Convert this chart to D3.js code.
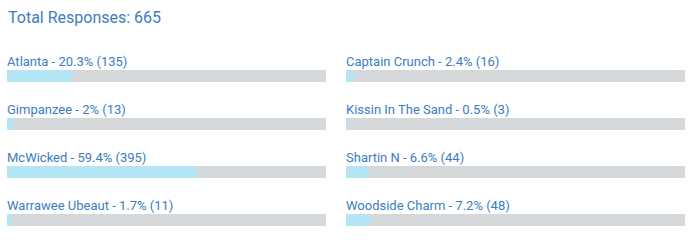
<!DOCTYPE html>
<html>
<head>
<meta charset="utf-8">
<script src="https://cdn.jsdelivr.net/npm/d3@7"></script>
<style>
  html, body { margin: 0; padding: 0; background: #fff; }
  svg { display: block; font-family: Roboto, "Noto Sans", sans-serif; }
</style>
</head>
<body>
<svg id="chart" width="700" height="245"></svg>
<script>
const totalResponses = 665;
const categories = ["Atlanta", "Captain Crunch", "Gimpanzee", "Kissin In The Sand", "McWicked", "Shartin N", "Warrawee Ubeaut", "Woodside Charm"];
const counts = [135, 16, 13, 3, 395, 44, 11, 48];
const percentLabels = ["20.3%", "2.4%", "2%", "0.5%", "59.4%", "6.6%", "1.7%", "7.2%"];

const svg = d3.select("#chart");
const textColor = "#3b7dc1";

svg.append("text")
  .attr("x", 8).attr("y", 23)
  .attr("fill", textColor)
  .attr("font-size", 16)
  .text("Total Responses: " + totalResponses);

const cols = [
  { x: 7, w: 319 },
  { x: 346, w: 339 }
];
const rowY = d3.scaleLinear().domain([0, 1]).range([70, 118]);
const barH = 12;

categories.forEach((cat, i) => {
  const col = cols[i % 2];
  const row = Math.floor(i / 2);
  const xs = d3.scaleLinear().domain([0, totalResponses]).range([0, col.w]);
  const y = rowY(row);
  const g = svg.append("g").attr("transform", `translate(${col.x},${y})`);
  g.append("rect").attr("x", 0).attr("y", 0).attr("width", xs(totalResponses)).attr("height", barH).attr("fill", "#d5d8db");
  g.append("rect").attr("x", 0).attr("y", 0).attr("width", xs(counts[i])).attr("height", barH).attr("fill", "#b3e5f4");
  g.append("text").attr("x", 0).attr("y", -4)
    .attr("fill", textColor).attr("font-size", 13)
    .text(`${cat} - ${percentLabels[i]} (${counts[i]})`);
});
</script>
</body>
</html>
